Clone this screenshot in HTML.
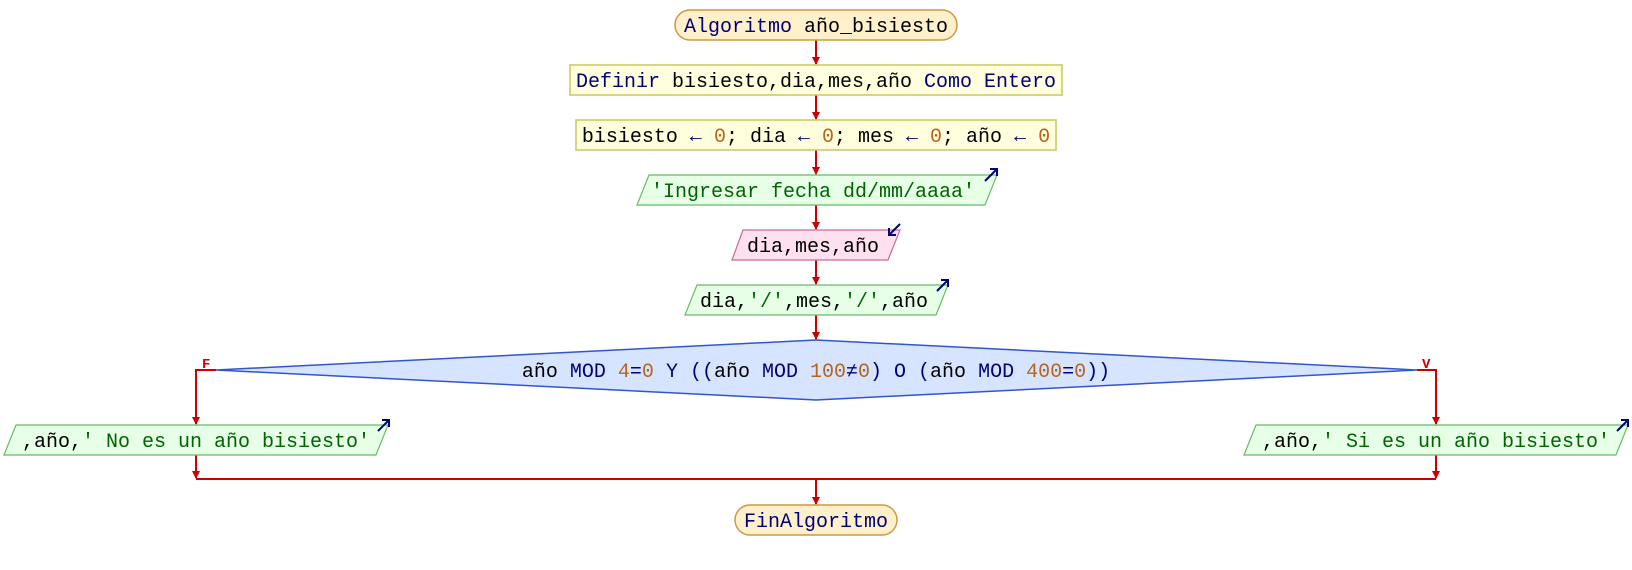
<!DOCTYPE html>
<html><head><meta charset="utf-8"><style>
html,body{margin:0;padding:0;background:#fff;width:1632px;height:570px;overflow:hidden}
svg text{font-family:"Liberation Mono","DejaVu Sans Mono",monospace;font-size:20px}
.k{fill:#00007a}.v{fill:#000}.n{fill:#b5651d}.s{fill:#006400}
</style></head><body>
<svg width="1632" height="570" viewBox="0 0 1632 570" xmlns="http://www.w3.org/2000/svg">
<defs><marker id="a" markerWidth="10" markerHeight="8" refX="7" refY="4" orient="auto" markerUnits="userSpaceOnUse"><path d="M0,0 L8,4 L0,8 z" fill="#cc0000"/></marker></defs>
<g stroke="#cc0000" stroke-width="2" fill="none">
<line x1="816" y1="40" x2="816" y2="64" marker-end="url(#a)"/>
<line x1="816" y1="95" x2="816" y2="119" marker-end="url(#a)"/>
<line x1="816" y1="150" x2="816" y2="174" marker-end="url(#a)"/>
<line x1="816" y1="205" x2="816" y2="229" marker-end="url(#a)"/>
<line x1="816" y1="260" x2="816" y2="284" marker-end="url(#a)"/>
<line x1="816" y1="315" x2="816" y2="339" marker-end="url(#a)"/>
<polyline points="216,370 196,370 196,424" marker-end="url(#a)"/>
<polyline points="1417,370 1436,370 1436,424" marker-end="url(#a)"/>
<line x1="196" y1="455" x2="196" y2="478" marker-end="url(#a)"/>
<line x1="1436" y1="455" x2="1436" y2="478" marker-end="url(#a)"/>
<line x1="196" y1="479" x2="1436" y2="479"/>
<line x1="816" y1="479" x2="816" y2="504" marker-end="url(#a)"/>
</g>
<text x="202" y="368" style="font-size:14px;font-weight:bold" fill="#cc0000">F</text>
<text x="1422" y="368" style="font-size:14px;font-weight:bold" fill="#cc0000">V</text>
<!-- start -->
<rect x="675" y="10" width="282" height="30" rx="15" fill="#fff0cc" stroke="#cc9944" stroke-width="1.5"/>
<text x="816" y="32" text-anchor="middle"><tspan class="k">Algoritmo </tspan><tspan class="v">año_bisiesto</tspan></text>
<!-- define -->
<rect x="570" y="65" width="492" height="30" fill="#ffffdd" stroke="#c8c860" stroke-width="1.5"/>
<text x="816" y="87" text-anchor="middle"><tspan class="k">Definir </tspan><tspan class="v">bisiesto,dia,mes,año </tspan><tspan class="k">Como Entero</tspan></text>
<!-- assign -->
<rect x="576" y="120" width="480" height="30" fill="#ffffdd" stroke="#c8c860" stroke-width="1.5"/>
<text x="816" y="142" text-anchor="middle"><tspan class="v">bisiesto </tspan><tspan class="k">←</tspan><tspan class="n"> 0</tspan><tspan class="v">; dia </tspan><tspan class="k">←</tspan><tspan class="n"> 0</tspan><tspan class="v">; mes </tspan><tspan class="k">←</tspan><tspan class="n"> 0</tspan><tspan class="v">; año </tspan><tspan class="k">←</tspan><tspan class="n"> 0</tspan></text>
<!-- output 1 -->
<polygon points="649,175 997,175 985,205 637,205" fill="#e6ffe6" stroke="#66bb66" stroke-width="1.2"/>
<text x="813" y="197" text-anchor="middle" class="s">'Ingresar fecha dd/mm/aaaa'</text>
<!-- input -->
<polygon points="743,230 900,230 888,260 732,260" fill="#ffe0ee" stroke="#cc6699" stroke-width="1.2"/>
<text x="813" y="252" text-anchor="middle" class="v">dia,mes,año</text>
<!-- output 2 -->
<polygon points="697,285 948,285 936,315 685,315" fill="#e6ffe6" stroke="#66bb66" stroke-width="1.2"/>
<text x="814" y="307" text-anchor="middle" class="v">dia,<tspan class="s">'/'</tspan>,mes,<tspan class="s">'/'</tspan>,año</text>
<!-- diamond -->
<polygon points="816,340 1417,370 816,400 216,370" fill="#d6e4ff" stroke="#3355cc" stroke-width="1.5"/>
<text x="816" y="377" text-anchor="middle"><tspan class="v">año </tspan><tspan class="k">MOD </tspan><tspan class="n">4</tspan><tspan class="k">=</tspan><tspan class="n">0</tspan><tspan class="k"> Y ((</tspan><tspan class="v">año </tspan><tspan class="k">MOD </tspan><tspan class="n">100</tspan><tspan class="k">≠</tspan><tspan class="n">0</tspan><tspan class="k">) O (</tspan><tspan class="v">año </tspan><tspan class="k">MOD </tspan><tspan class="n">400</tspan><tspan class="k">=</tspan><tspan class="n">0</tspan><tspan class="k">))</tspan></text>
<!-- No -->
<polygon points="16,425 388,425 376,455 4,455" fill="#e6ffe6" stroke="#66bb66" stroke-width="1.2"/>
<text x="196" y="447" text-anchor="middle"><tspan class="v">,año,</tspan><tspan class="s">' No es un año bisiesto'</tspan></text>
<!-- Si -->
<polygon points="1256,425 1628,425 1616,455 1244,455" fill="#e6ffe6" stroke="#66bb66" stroke-width="1.2"/>
<text x="1436" y="447" text-anchor="middle"><tspan class="v">,año,</tspan><tspan class="s">' Si es un año bisiesto'</tspan></text>
<!-- end -->
<rect x="735" y="505" width="162" height="30" rx="15" fill="#fff0cc" stroke="#cc9944" stroke-width="1.5"/>
<text x="816" y="527" text-anchor="middle" class="k">FinAlgoritmo</text>
<!-- io arrows -->
<g stroke="#00007a" stroke-width="2" fill="none">
<path d="M985,181 L997,169 M990,169 L997,169 L997,176"/>
<path d="M937,291 L948,280 M941,280 L948,280 L948,287"/>
<path d="M378,431 L389,420 M382,420 L389,420 L389,427"/>
<path d="M1617,431 L1628,420 M1621,420 L1628,420 L1628,427"/>
<path d="M900,224 L889,235 M889,228 L889,235 L896,235"/>
</g>
</svg>
</body></html>
